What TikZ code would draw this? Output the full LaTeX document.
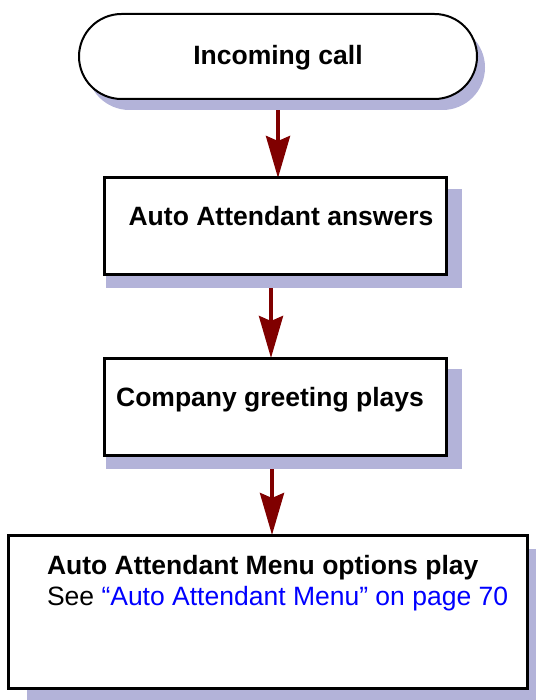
\documentclass[tikz,border=0pt]{standalone}
\usepackage{fontspec}
\setmainfont{Liberation Sans}
\usetikzlibrary{positioning, shadows, arrows.meta, backgrounds}
\definecolor{flowred}{RGB}{128,0,0}
\definecolor{shadowblue}{RGB}{179,179,217}
\definecolor{linkblue}{RGB}{0,0,255}

\begin{document}
\begin{tikzpicture}[x=1pt, y=-1pt, outer sep=0pt,
  boxshadow/.style={drop shadow={#1, fill=shadowblue, opacity=1}},
  startbox/.style={draw, line width=2pt, fill=white, rounded corners=42.5pt, minimum width=398pt, minimum height=85pt, text height=19pt, text depth=2pt, font=\fontsize{26.5}{31}\selectfont\bfseries, boxshadow={shadow xshift=8pt, shadow yshift=-11pt}},
  stepbox/.style={draw, line width=3pt, fill=white, minimum width=342pt, minimum height=96pt, text height=19pt, text depth=19pt, font=\fontsize{26.5}{31}\selectfont\bfseries, boxshadow={shadow xshift=8.5pt, shadow yshift=-12pt, shadow scale=1.04}},
  menubox/.style={draw, line width=3pt, fill=white, minimum width=519pt, minimum height=153pt, boxshadow={shadow xshift=19pt, shadow yshift=-14pt}},
  flow/.style={draw=flowred, line width=4pt, -{Stealth[length=42pt, width=24pt, inset=5pt]}}]
\useasboundingbox (0,0) rectangle (535,700);
\node (1)[startbox] at (278,56.5) {Incoming call};
\node (2)[stepbox] [below=79pt of 1, xshift=-3pt] {\hspace*{12pt}Auto Attendant answers};
\node (3)[stepbox, minimum height=97pt] [below=84pt of 2] {Company greeting plays\hspace*{10pt}};
\node (4)[menubox] [below=80pt of 3, xshift=-7.5pt] {};
\node (4t)[anchor=base west, align=left, inner sep=0pt, font=\fontsize{26.5}{31}\selectfont] at ([xshift=39pt, yshift=-70pt]4.north west) {\textbf{Auto Attendant Menu options play}\\See \textcolor{linkblue}{“Auto Attendant Menu” on page 70}};
\begin{scope}[on background layer]
\draw[flow] (1.south) -- (1.south |- 2.north);
\draw[flow] ([xshift=-4pt]2.south) -- ([xshift=-4pt]2.south |- 3.north);
\draw[flow] ([xshift=-3pt]3.south) -- ([xshift=-3pt]3.south |- 4.north);
\end{scope}
\end{tikzpicture}
\end{document}
